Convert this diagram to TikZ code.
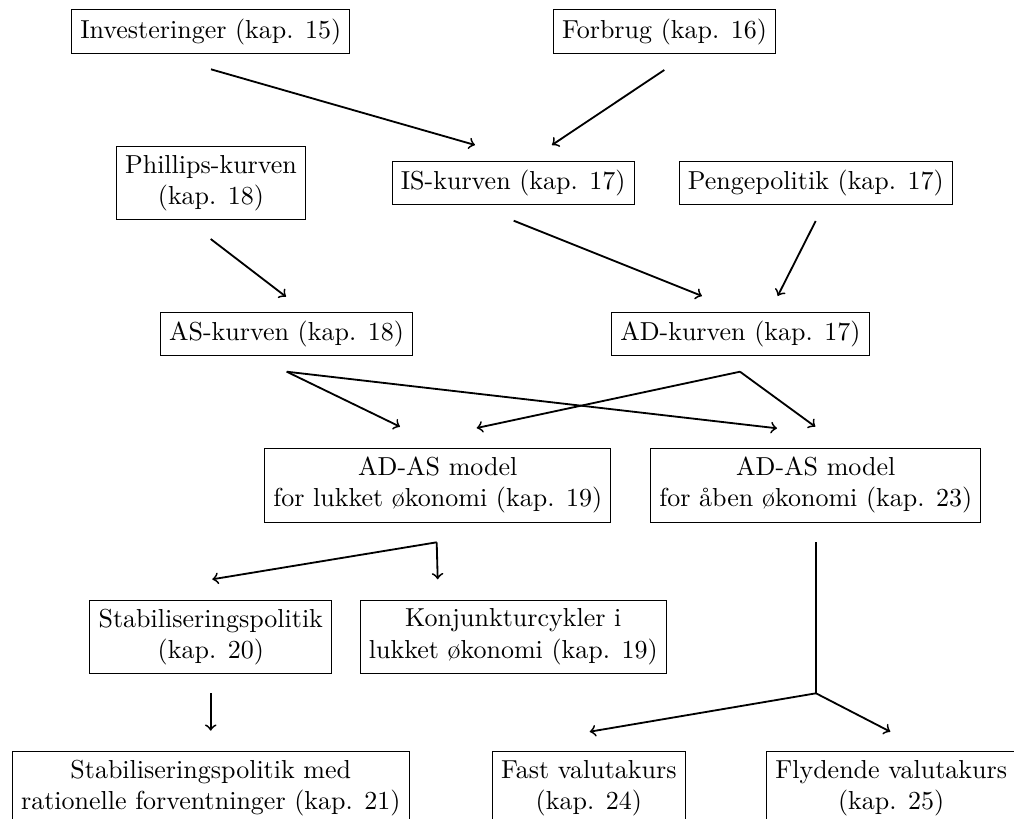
\documentclass[tikz,border=0pt]{standalone}
\usetikzlibrary{calc}
\begin{document}
\begin{tikzpicture}[x=0.3846pt,y=-0.3846pt,
  box/.style={draw,line width=0.4pt,align=center,inner sep=3.333pt},
  conn/.style={line width=0.7pt,->},
  seg/.style={line width=0.7pt}]
\useasboundingbox (0,0) rectangle (1014,819);
% nodes
\node[box] (inv) at (210.8,31.5) {Investeringer (kap. 15)};
\node[box] (forb) at (664.5,31.5) {Forbrug (kap. 16)};
\node[box] (phil) at (211,183) {Phillips-kurven\\(kap. 18)};
\node[box] (is) at (513.2,183) {IS-kurven (kap. 17)};
\node[box] (peng) at (815.8,183) {Pengepolitik (kap. 17)};
\node[box] (as) at (286.5,334.2) {AS-kurven (kap. 18)};
\node[box] (ad) at (740.4,334.2) {AD-kurven (kap. 17)};
\node[box] (closed) at (437.8,485.2) {AD-AS model\\for lukket økonomi (kap. 19)};
\node[box] (open) at (815.8,485.2) {AD-AS model\\for åben økonomi (kap. 23)};
\node[box] (stab) at (210.8,636.8) {Stabiliseringspolitik\\(kap. 20)};
\node[box] (konj) at (513.3,636.8) {Konjunkturcykler i\\lukket økonomi (kap. 19)};
\node[box] (stabmed) at (210.8,788.2) {Stabiliseringspolitik med\\rationelle forventninger (kap. 21)};
\node[box] (fast) at (588.8,788.2) {Fast valutakurs\\(kap. 24)};
\node[box] (flyd) at (891.2,788.2) {Flydende valutakurs\\(kap. 25)};
% connector end points
\coordinate (invS) at (211,69.3);
\coordinate (isN1) at (475,145);
\coordinate (forbS) at (664.3,70);
\coordinate (isN2) at (552,145);
\coordinate (philS) at (210.7,239);
\coordinate (asN) at (286,296.7);
\coordinate (isS) at (513.7,220.7);
\coordinate (adN1) at (702,296);
\coordinate (pengS) at (815.7,221);
\coordinate (adN2) at (777.7,296);
\coordinate (asS) at (286.7,371.7);
\coordinate (adS) at (740,371.7);
\coordinate (closedN1) at (400,426.7);
\coordinate (closedN2) at (476.7,428);
\coordinate (openN1) at (777,428.3);
\coordinate (openN2) at (815.3,426.7);
\coordinate (closedS) at (436.7,542.3);
\coordinate (stabN) at (212.3,579.3);
\coordinate (konjN) at (437.7,579.3);
\coordinate (stabS) at (210.7,693.3);
\coordinate (stabmedN) at (210.7,730.7);
\coordinate (openS) at (816,542.3);
\coordinate (openJ) at (816,693.3);
\coordinate (fastN) at (589.7,731.7);
\coordinate (flydN) at (890.3,731.7);
% connectors
\draw[conn] (invS) -- (isN1);
\draw[conn] (forbS) -- (isN2);
\draw[conn] (philS) -- (asN);
\draw[conn] (isS) -- (adN1);
\draw[conn] (pengS) -- (adN2);
\draw[conn] (asS) -- (closedN1);
\draw[conn] (asS) -- (openN1);
\draw[conn] (adS) -- (closedN2);
\draw[conn] (adS) -- (openN2);
\draw[conn] (closedS) -- (stabN);
\draw[conn] (closedS) -- (konjN);
\draw[conn] (stabS) -- (stabmedN);
\draw[seg] (openS) -- (openJ);
\draw[conn] (openJ) -- (fastN);
\draw[conn] (openJ) -- (flydN);
\end{tikzpicture}
\end{document}
